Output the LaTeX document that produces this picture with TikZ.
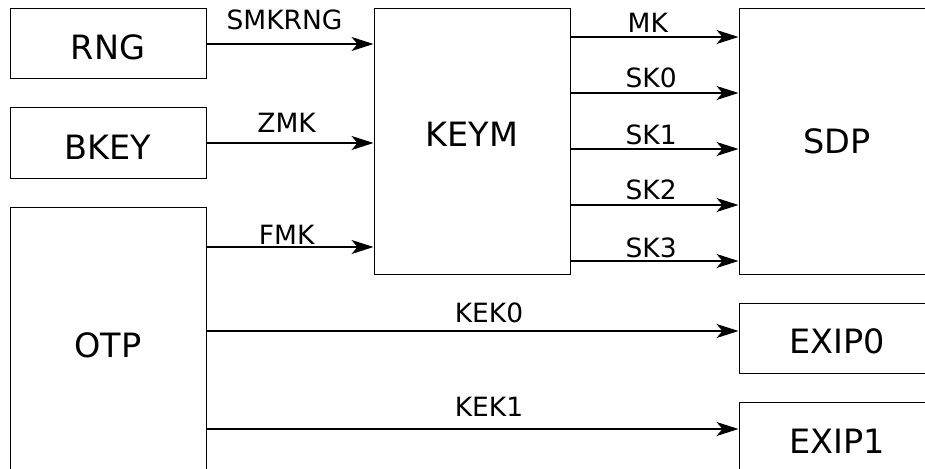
\documentclass[tikz,border=0pt]{standalone}
\usepackage{fontspec}
\setmainfont{DejaVu Sans}
\usetikzlibrary{arrows.meta, positioning}
\tikzset{
  blk/.style={draw=black, line width=1pt, minimum width=196pt, inner sep=0pt, font=\fontsize{33.5}{40}\selectfont},
  smallblk/.style={blk, minimum height=70pt, text height=32pt},
  arr/.style={-{Stealth[length=22pt, width=14pt, inset=6pt]}, line width=1.2pt},
  lbl/.style={font=\fontsize{26.5}{30}\selectfont, inner sep=0pt},
}

\begin{document}
\begin{tikzpicture}[x=1pt, y=-1pt]
  \useasboundingbox (0,0) rectangle (925,468);
  \clip (0,0) rectangle (925,468);

  % Key sources (left column)
  \node[smallblk] (rng) at (108,44) {RNG};
  \node[smallblk, below=28pt of rng] (bkey) {BKEY};
  \node[blk, minimum height=276pt, below=28pt of bkey] (otp) {OTP};

  % Key manager and consumers
  \node[blk, minimum height=265pt, text depth=14pt] (keym) at (472,141.5) {KEYM};
  \node[blk, minimum height=265pt] (sdp) at (837,141.5) {SDP};
  \node[smallblk] (exip0) at (837,338) {EXIP0};
  \node[smallblk] (exip1) at (837,437) {EXIP1};

  % Arrows into KEYM
  \draw[arr] (rng.east) -- node[lbl, pos=0.467, above=14pt] {SMKRNG} (rng.east -| keym.west);
  \draw[arr] (bkey.east) -- node[lbl, pos=0.48, above=10pt] {ZMK} (bkey.east -| keym.west);
  \draw[arr] (otp.east |- 0,247) -- node[lbl, pos=0.48, above=2pt] {FMK} (keym.west |- 0,247);

  % Arrows from KEYM to SDP
  \draw[arr] (keym.east |- 0,37) -- node[lbl, pos=0.46, above=4pt] {MK} (sdp.west |- 0,37);
  \draw[arr] (keym.east |- 0,93) -- node[lbl, pos=0.48, above=5pt] {SK0} (sdp.west |- 0,93);
  \draw[arr] (keym.east |- 0,149) -- node[lbl, pos=0.48, above=4pt] {SK1} (sdp.west |- 0,149);
  \draw[arr] (keym.east |- 0,205) -- node[lbl, pos=0.48, above=5pt] {SK2} (sdp.west |- 0,205);
  \draw[arr] (keym.east |- 0,261) -- node[lbl, pos=0.48, above=3pt] {SK3} (sdp.west |- 0,261);

  % Arrows from OTP to EXIPs
  \draw[arr] (otp.east |- 0,331) -- node[lbl, pos=0.531, above=8pt] {KEK0} (exip0.west |- 0,331);
  \draw[arr] (otp.east |- 0,429) -- node[lbl, pos=0.531, above=12pt] {KEK1} (exip1.west |- 0,429);
\end{tikzpicture}
\end{document}
